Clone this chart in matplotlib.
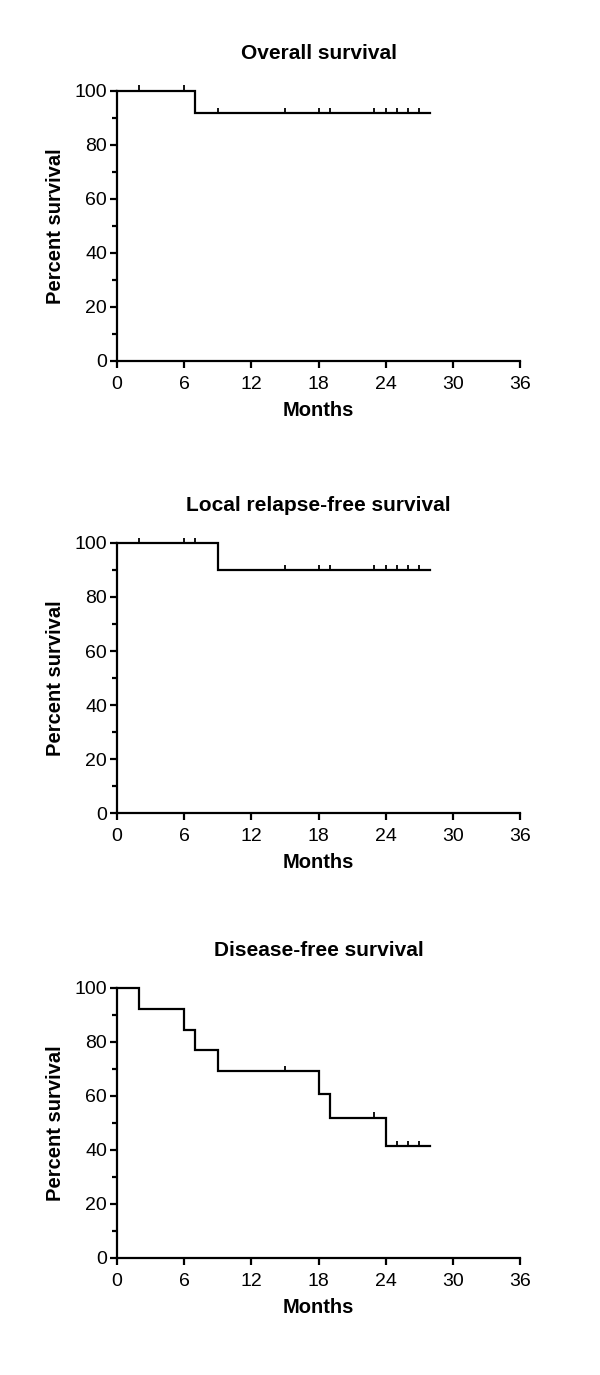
import matplotlib.pyplot as plt
import numpy as np

plt.rcParams['font.family'] = ['Liberation Sans', 'DejaVu Sans']

# Kaplan-Meier steps (time in months, percent survival)
titles = ["Overall survival", "Local relapse-free survival", "Disease-free survival"]

os_times = [0, 7, 28]
os_surv = [100, 91.7, 91.7]
os_cens_t = [2, 6, 9, 15, 18, 19, 23, 24, 25, 26, 27]
os_cens_s = [100, 100, 91.7, 91.7, 91.7, 91.7, 91.7, 91.7, 91.7, 91.7, 91.7]

lrfs_times = [0, 9, 28]
lrfs_surv = [100, 90, 90]
lrfs_cens_t = [2, 6, 7, 15, 18, 19, 23, 24, 25, 26, 27]
lrfs_cens_s = [100, 100, 100, 90, 90, 90, 90, 90, 90, 90, 90]

dfs_times = [0, 2, 6, 7, 9, 18, 19, 24, 28]
dfs_surv = [100, 92.3, 84.6, 76.9, 69.2, 60.6, 51.9, 41.5, 41.5]
dfs_cens_t = [15, 23, 25, 26, 27]
dfs_cens_s = [69.2, 51.9, 41.5, 41.5, 41.5]

x_ticks = [0, 6, 12, 18, 24, 30, 36]
y_ticks = [0, 20, 40, 60, 80, 100]

curves = [
    (os_times, os_surv, os_cens_t, os_cens_s),
    (lrfs_times, lrfs_surv, lrfs_cens_t, lrfs_cens_s),
    (dfs_times, dfs_surv, dfs_cens_t, dfs_cens_s),
]

fig = plt.figure(figsize=(6, 13.75), dpi=100)
bottoms = [0.7375, 0.4087, 0.0851]

for i, (t, s, ct, cs) in enumerate(curves):
    ax = fig.add_axes([0.195, bottoms[i], 0.6717, 0.1964])
    ax.step(t, s, where='post', color='black', lw=1.6, solid_joinstyle='miter', clip_on=False)
    # censor marks: short upward ticks
    ax.vlines(ct, np.array(cs), np.array(cs) + 2.0, color='black', lw=1.3, clip_on=False)

    ax.set_xlim(0, 36)
    ax.set_ylim(0, 100)
    ax.set_xticks(x_ticks)
    ax.set_yticks(y_ticks)
    ax.set_yticks(np.arange(10, 100, 20), minor=True)
    for side in ['top', 'right']:
        ax.spines[side].set_visible(False)
    for side in ['left', 'bottom']:
        ax.spines[side].set_linewidth(1.6)
    ax.tick_params(which='both', direction='out', width=1.6, labelsize=14)
    ax.tick_params(which='major', length=5)
    ax.tick_params(which='minor', length=3.5)
    ax.tick_params(axis='x', pad=5.5)
    ax.tick_params(axis='y', pad=2.2)
    ax.set_xlabel("Months", fontsize=14.5, fontweight='bold', labelpad=6)
    ax.set_ylabel("Percent survival", fontsize=14.5, fontweight='bold', labelpad=7)
    ax.set_title(titles[i], fontsize=15, fontweight='bold', pad=23)

fig.savefig("out.png", dpi=100)
